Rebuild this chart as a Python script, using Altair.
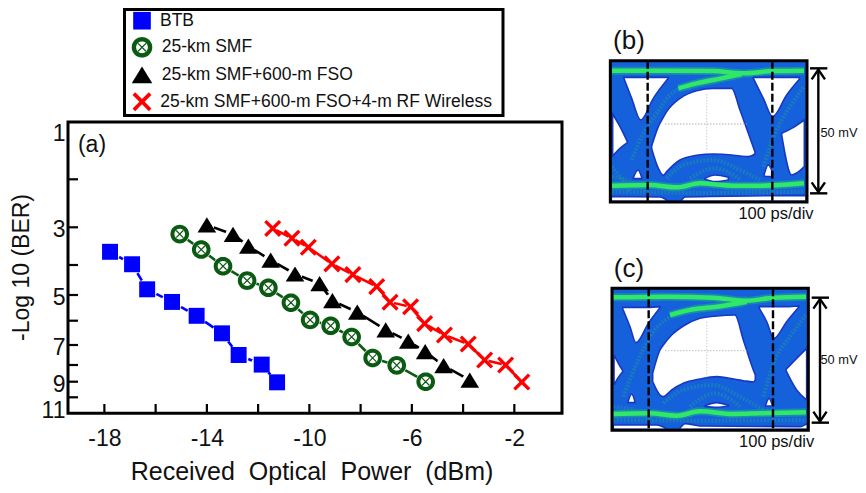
import altair as alt
import numpy as np
import pandas as pd

FONT = "Liberation Sans"
series_names = ["BTB", "25-km SMF", "25-km SMF+600-m FSO", "25-km SMF+600-m FSO+4-m RF Wireless"]
series_colors = ["#0000ff", "#0b5a12", "#000000", "#ff0000"]

btb_x = [-17.78, -16.92, -16.33, -15.36, -14.40, -13.41, -12.76, -11.86, -11.26]
btb_y = [3.65, 3.98, 4.81, 5.27, 5.81, 6.52, 7.5, 7.98, 9.04]
smf_x = [-15.06, -14.22, -13.37, -12.43, -11.60, -10.72, -9.97, -9.17, -8.35, -7.53, -6.59, -5.46]
smf_y = [3.18, 3.59, 4.04, 4.52, 4.76, 5.30, 5.97, 6.21, 6.67, 7.65, 8.02, 9.0]
fso_x = [-14.0, -12.98, -12.38, -11.51, -10.56, -9.60, -9.10, -8.13, -7.02, -6.14, -5.48, -4.76, -3.74]
fso_y = [2.95, 3.19, 3.50, 3.87, 4.30, 4.62, 5.22, 5.67, 6.38, 6.84, 7.33, 8.04, 8.9]
rf_x = [-11.43, -10.68, -10.04, -9.12, -8.30, -7.37, -6.85, -6.05, -5.50, -4.73, -3.80, -3.16, -2.34, -1.71]
rf_y = [3.03, 3.29, 3.53, 3.97, 4.32, 4.72, 5.28, 5.46, 6.12, 6.59, 6.96, 7.75, 8.0, 9.02]

x_ticks = list(range(-18, -1, 2))
x_labels = [-18, -14, -10, -6, -2]
y_ticks = list(range(1, 12))
y_labels = [1, 3, 5, 7, 9, 11]
y_px = [114, 171.3, 219.3, 257, 287, 312.7, 337, 357, 373.7, 389.3, 405.3]
x_domain = [-19.42, -0.14]
x_range = [60, 554]


def poly(points):
    return "M" + "L".join(f"{a:.3f},{b:.3f}" for a, b in points) + "Z"


def ring_path():
    t = np.linspace(0, 2 * np.pi, 40, endpoint=False)
    outer = [(0.98 * np.cos(a), 0.98 * np.sin(a)) for a in t]
    inner = [(0.56 * np.cos(a), 0.56 * np.sin(a)) for a in t[::-1]]
    e, w = 0.42, 0.09
    arm1 = [(-e, -e + w), (-e + w, -e), (e, e - w), (e - w, e)]
    arm2 = [(e - w, -e), (e, -e + w), (-e + w, e), (-e, e - w)]
    return poly(outer) + poly(inner) + poly(arm1) + poly(arm2)


def x_path(e=0.9, w=0.25):
    return poly([(-e, -e + w), (-e + w, -e), (0, -w), (e - w, -e), (e, -e + w), (w, 0),
                 (e, e - w), (e - w, e), (0, w), (-e + w, e), (-e, e - w), (-w, 0)])


square_path = poly([(-0.84, -0.84), (0.84, -0.84), (0.84, 0.84), (-0.84, 0.84)])
tri_path = poly([(0, -0.8), (0.98, 0.8), (-0.98, 0.8)])
shapes = [square_path, ring_path(), tri_path, x_path()]

rows = []
for name, xs, ys in zip(series_names, [btb_x, smf_x, fso_x, rf_x], [btb_y, smf_y, fso_y, rf_y]):
    for i, (a, b) in enumerate(zip(xs, ys)):
        rows.append({"series": name, "power": a, "ber": b, "i": i})
df = pd.DataFrame(rows)

sx = alt.Scale(domain=x_domain, range=x_range, nice=False, zero=False)
sy = alt.Scale(domain=y_ticks, range=y_px, nice=False, zero=False)
X = alt.X("power:Q", scale=sx, axis=None)
Y = alt.Y("ber:Q", scale=sy, axis=None)

x_axis = alt.Axis(values=x_labels, orient="bottom", offset=-72, ticks=False, domain=False, grid=False,
                  labelFontSize=23, labelPadding=14, labelColor="#111", labelExpr="'' + datum.value",
                  title="Received\u00a0\u00a0Optical\u00a0\u00a0Power\u00a0\u00a0(dBm)", titleFontSize=25,
                  titleFontWeight="normal",
                  titleColor="#111", titleX=303.5, titleY=58.5, titleAlign="center", titleBaseline="middle")
y_axis = alt.Axis(values=y_labels, orient="left", offset=-60, ticks=False, domain=False, grid=False,
                  labelFontSize=23, labelPadding=3, labelColor="#111", format="d",
                  labelOffset=alt.expr("datum.value == 1 ? 11 : datum.value == 11 ? -3 : 2.5"),
                  title="-Log 10 (BER)", titleFontSize=23, titleFontWeight="normal", titleColor="#111",
                  titleX=-47, titleY=259, titleAlign="center", titleBaseline="middle")

axis_df = pd.DataFrame({"power": [x_domain[0]], "power2": [x_domain[1]], "ber": [1], "ber2": [11]})
frame = alt.Chart(axis_df).mark_rect(fill=None, stroke="black", strokeWidth=3).encode(
    x=alt.X("power:Q", scale=sx, axis=x_axis), x2="power2:Q",
    y=alt.Y("ber:Q", scale=sy, axis=y_axis), y2="ber2:Q")

xt = pd.DataFrame({"power": x_ticks})
x_tick_marks = alt.Chart(xt).mark_rule(color="black", strokeWidth=2.2).encode(
    x=X, y=alt.value(405), y2=alt.value(396))
yt = pd.DataFrame({"ber": y_ticks[1:-1]})
y_tick_marks = alt.Chart(yt).mark_rule(color="black", strokeWidth=2.2).encode(
    y=Y, x=alt.value(60), x2=alt.value(70))

lines = alt.Chart(df).mark_line(strokeWidth=2.6).encode(
    x=X, y=Y, order="i:Q",
    stroke=alt.Stroke("series:N", legend=None, scale=alt.Scale(domain=series_names, range=series_colors)))

halo_sizes = [21, 20, 15, 8]
halos = [alt.Chart(df[df.series == n]).mark_point(filled=True, shape="circle", color="white", opacity=1,
                                                  size=d * d).encode(x=X, y=Y)
         for n, d in zip(series_names, halo_sizes)]

main = alt.layer(x_tick_marks, y_tick_marks, lines, *halos)

marks = alt.Chart(df).mark_point(filled=True, size=361, opacity=1, strokeWidth=0).encode(
    x=X, y=Y,
    shape=alt.Shape("series:N", scale=alt.Scale(domain=series_names, range=shapes), legend=None),
    fill=alt.Fill("series:N", scale=alt.Scale(domain=series_names, range=series_colors), legend=None))

legend_box = alt.Chart(pd.DataFrame({"a": [1]})).mark_rect(fill=None, stroke="black", strokeWidth=3).encode(
    x=alt.value(116.5), x2=alt.value(495), y=alt.value(1.5), y2=alt.value(107.5))

legend_layers = []
for name, color, shp, row_y, text_x in zip(series_names, series_colors, shapes,
                                           [12.7, 39.3, 66.8, 93.7], [152, 153.7, 153.7, 152.3]):
    one = pd.DataFrame({"t": [name]})
    legend_layers.append(alt.Chart(one).mark_point(filled=True, shape=shp, size=441, fill=color, opacity=1,
                                                   strokeWidth=0).encode(x=alt.value(134), y=alt.value(row_y)))
    legend_layers.append(alt.Chart(one).mark_text(fontSize=17.5, color="#111", align="left", baseline="middle").encode(
        text="t:N", x=alt.value(text_x), y=alt.value(row_y)))

a_label = alt.Chart(pd.DataFrame({"t": ["(a)"]})).mark_text(fontSize=23, color="#111").encode(
    text="t:N", x=alt.value(84), y=alt.value(137))

BLUE = "#1561dc"
EDGE = "#1738c4"
TEAL = "#1f9a9c"
GREEN = "#2fe868"


def whites(regions):
    return pd.DataFrame([{"r": r, "x": a, "t": b, "b": c} for r, pts in enumerate(regions) for a, b, c in pts])


def polylines(curves):
    return pd.DataFrame([{"r": r, "x": a, "y": b, "i": i} for r, pts in enumerate(curves)
                         for i, (a, b) in enumerate(pts)])


def panel(top_px, box, regions, teal, green, dash_x, arrow_x, cap_y, grid_y, grid_x, tag, tag_y, mv_y, ps_x, ps_y):
    l, r, t, b = box
    psx = alt.Scale(domain=[0, 798], range=[592, 858], nice=False, zero=False)
    psy = alt.Scale(domain=[0, 660], range=[top_px - 8, top_px + 212], nice=False, zero=False)
    PX = alt.X("x:Q", scale=psx, axis=None)
    PY = alt.Y("y:Q", scale=psy, axis=None)
    layers = []
    boxdf = pd.DataFrame({"x": [l], "x2": [r], "y": [t], "y2": [b]})
    layers.append(alt.Chart(boxdf).mark_rect(fill=BLUE).encode(x=PX, x2="x2:Q", y=PY, y2="y2:Q"))
    layers.append(alt.Chart(polylines(teal)).mark_line(stroke=TEAL, strokeWidth=4, opacity=0.45, strokeDash=[2, 1.5],
                                                       interpolate="monotone").encode(
        x=PX, y=PY, detail="r:N", order="i:Q"))
    layers.append(alt.Chart(polylines(green)).mark_line(stroke=TEAL, strokeWidth=8, opacity=0.7,
                                                        interpolate="monotone").encode(
        x=PX, y=PY, detail="r:N", order="i:Q"))
    layers.append(alt.Chart(whites(regions)).mark_area(fill="white", stroke=EDGE, strokeWidth=1.6, opacity=1,
                                                       interpolate="monotone").encode(
        x=PX, y=alt.Y("t:Q", scale=psy, axis=None), y2="b:Q", detail="r:N"))
    layers.append(alt.Chart(polylines(green)).mark_line(stroke=GREEN, strokeWidth=4.5,
                                                        interpolate="monotone").encode(
        x=PX, y=PY, detail="r:N", order="i:Q"))
    gh = pd.DataFrame({"x": [195], "x2": [440], "y": [grid_y]})
    layers.append(alt.Chart(gh).mark_rule(color="#b9bcc4", strokeWidth=1.4, strokeDash=[1.5, 1.5], opacity=0.8).encode(
        x=PX, x2="x2:Q", y=PY))
    gv = pd.DataFrame({"x": [grid_x], "y": [t + 100], "y2": [t + 270]})
    layers.append(alt.Chart(gv).mark_rule(color="#d4d6da", strokeWidth=1.2, strokeDash=[1.5, 1.5]).encode(
        x=PX, y=PY, y2="y2:Q"))
    layers.append(alt.Chart(boxdf).mark_rect(fill=None, stroke="black", strokeWidth=3).encode(
        x=PX, x2="x2:Q", y=PY, y2="y2:Q"))
    dd = pd.DataFrame({"x": dash_x, "y": [t] * 2, "y2": [b] * 2})
    layers.append(alt.Chart(dd).mark_rule(color="black", strokeWidth=2.4, strokeDash=[8, 3]).encode(
        x=PX, y=PY, y2="y2:Q"))
    c1, c2 = cap_y
    rules = pd.DataFrame({"x": [arrow_x - 25, arrow_x - 25, arrow_x], "x2": [arrow_x + 27, arrow_x + 27, arrow_x],
                          "y": [c1, c2, c1], "y2": [c1, c2, c2]})
    layers.append(alt.Chart(rules).mark_rule(color="black", strokeWidth=2.4).encode(
        x=PX, x2="x2:Q", y=PY, y2="y2:Q"))
    heads = [[(arrow_x - 20, c1 + 33), (arrow_x, c1 + 4), (arrow_x + 20, c1 + 33)],
             [(arrow_x - 20, c2 - 33), (arrow_x, c2 - 4), (arrow_x + 20, c2 - 33)]]
    layers.append(alt.Chart(polylines(heads)).mark_line(color="black", strokeWidth=2.4).encode(
        x=PX, y=PY, detail="r:N", order="i:Q"))
    texts = pd.DataFrame({"x": [87, 717, ps_x], "y": [tag_y, mv_y, ps_y], "t": [tag, "50 mV", "100 ps/div"],
                          "s": [26, 12.8, 16.5]})
    for _, row in texts.iterrows():
        layers.append(alt.Chart(pd.DataFrame([row])).mark_text(fontSize=float(row.s), color="#111").encode(
            x=PX, y=PY, text="t:N"))
    return alt.layer(*layers)


b_regions = [
    [(155, 378, 386), (175, 320, 445), (190, 292, 466), (200, 275, 455), (240, 235, 420), (290, 212, 406),
     (340, 205, 402), (395, 205, 405), (420, 270, 408), (445, 340, 410), (465, 396, 402)],
    [(72, 172, 176), (95, 172, 235), (122, 172, 300), (160, 172, 235), (205, 172, 175)],
    [(460, 172, 175), (490, 172, 235), (518, 172, 290), (560, 172, 225), (598, 172, 178)],
    [(38, 282, 408), (60, 320, 385), (82, 365, 368)],
    [(545, 340, 345), (575, 325, 465), (613, 300, 440)],
    [(34, 530, 544), (180, 531, 544), (195, 537, 544), (205, 543, 544), (240, 543, 544), (255, 531, 544), (618, 526, 544)],
    [(100, 473, 476), (114, 450, 476), (126, 475, 476)],
    [(492, 465, 468), (505, 435, 470), (515, 450, 470)],
    [(315, 475, 478), (345, 465, 485), (385, 472, 480)],
]
b_teal = [
    [(95, 420), (130, 340), (170, 280), (210, 225), (270, 195), (340, 180), (420, 165)],
    [(200, 475), (250, 435), (340, 420), (420, 450), (480, 480)],
    [(270, 475), (345, 445), (420, 478)],
    [(490, 440), (525, 340), (570, 260), (612, 200)],
    [(36, 440), (60, 470), (90, 515)],
    [(36, 470), (80, 480), (140, 515)],
    [(36, 515), (300, 518), (612, 515)],
]
b_green = [
    [(36, 152), (200, 152), (340, 153), (430, 160), (520, 153), (612, 152)],
    [(235, 205), (290, 190), (350, 178), (425, 162)],
    [(36, 497), (150, 495), (230, 502), (300, 490), (400, 497), (480, 497), (612, 490)],
]

c_regions = [
    [(158, 370, 395), (180, 300, 435), (190, 285, 440), (215, 255, 420), (250, 228, 400), (300, 205, 387),
     (350, 198, 380), (405, 195, 388), (430, 270, 392), (460, 360, 396), (466, 375, 390)],
    [(68, 172, 176), (90, 172, 230), (108, 172, 278), (145, 172, 220), (180, 170, 173)],
    [(478, 170, 175), (500, 170, 215), (522, 170, 265), (560, 170, 215), (596, 168, 172)],
    [(42, 315, 405), (55, 340, 382), (68, 362, 365)],
    [(558, 358, 362), (590, 325, 420), (620, 295, 450)],
    [(40, 525, 538), (170, 525, 538), (190, 531, 538), (205, 537, 538), (235, 537, 538), (255, 521, 538),
     (300, 528, 538), (600, 530, 538), (622, 520, 538)],
    [(84, 455, 458), (95, 432, 458), (105, 455, 458)],
    [(497, 465, 468), (507, 445, 468), (517, 465, 468)],
    [(315, 467, 469), (350, 458, 472), (385, 466, 468)],
]
c_teal = [
    [(70, 440), (110, 340), (150, 260), (210, 200), (270, 180), (340, 172), (430, 165)],
    [(190, 460), (250, 420), (340, 405), (420, 440), (490, 480)],
    [(270, 470), (345, 430), (420, 470)],
    [(490, 440), (525, 330), (570, 260), (618, 195)],
    [(40, 470), (100, 480), (160, 505)],
    [(40, 510), (300, 512), (618, 510)],
]
c_green = [
    [(40, 142), (200, 140), (340, 143), (440, 152), (520, 143), (618, 140)],
    [(210, 195), (280, 178), (350, 170), (440, 155)],
    [(40, 492), (150, 490), (230, 497), (300, 484), (400, 492), (480, 490), (618, 487)],
]

panel_b = panel(20, (31, 621, 122, 546), b_regions, b_teal, b_green, [143, 517], 655, (145, 520), 312, 320,
                "(b)", 62, 340, 528, 583)
panel_c = panel(250, (36, 625, 115, 541), c_regions, c_teal, c_green, [146, 519], 660, (143, 518), 302, 320,
                "(c)", 56, 330, 530, 575)

chart = alt.layer(frame, main, marks, legend_box, *legend_layers, a_label, panel_b, panel_c).resolve_scale(
    x="independent", y="independent").properties(
    width=850, height=477, padding=0, autosize=alt.AutoSizeParams(type="none")
).configure(font=FONT).configure_view(stroke=None)

chart.save("out.html", embed_options={"renderer": "svg", "actions": False})
